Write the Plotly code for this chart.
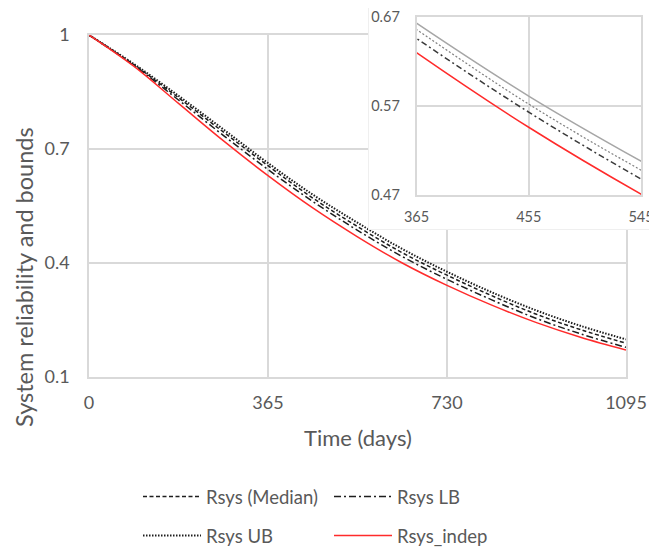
import plotly.graph_objects as go

# ---- data ----
days = [0, 91.25, 182.5, 273.75, 365, 456.25, 547.5, 638.75, 730, 821.25, 912.5, 1003.75, 1095]
rsys_median = [1.000, 0.922, 0.835, 0.745, 0.656, 0.571, 0.496, 0.427, 0.368, 0.314, 0.265, 0.224, 0.189]
rsys_lb = [1.000, 0.920, 0.829, 0.736, 0.646, 0.562, 0.486, 0.417, 0.357, 0.303, 0.254, 0.213, 0.178]
rsys_ub = [1.000, 0.924, 0.840, 0.752, 0.663, 0.580, 0.506, 0.437, 0.377, 0.323, 0.275, 0.234, 0.199]
rsys_indep = [1.000, 0.918, 0.820, 0.722, 0.630, 0.545, 0.469, 0.400, 0.341, 0.289, 0.243, 0.204, 0.171]

x_ticks = [0, 365, 730, 1095]
y_ticks = [0.1, 0.4, 0.7, 1.0]
y_ticktext = ["0.1", "0.4", "0.7", "1"]
inset_x_ticks = [365, 455, 545]
inset_y_ticks = [0.47, 0.57, 0.67]
inset_y_ticktext = ["0.47", "0.57", "0.67"]

FONT = "Lato"
TXT = "#595959"
GRID = "#d9d9d9"
BLACK = "#1e1e1e"
RED = "#ff2b2b"

OFF = 8  # page body margin of the browser
W, H = 657 - OFF, 552 - OFF
L, R, T, B = 89 - OFF, 0, 0, 175
# figure frame in reference pixels: x in [OFF, 657], y in [OFF, 552]
PX0, PY0 = L + OFF, T + OFF          # plot-area top-left, reference pixels
PW, PH = W - L - R, H - T - B
PY1 = PY0 + PH                        # plot-area bottom, reference pixels


def px_x(a, b):
    return [max(0.0, (a - PX0) / PW), min(1.0, (b - PX0) / PW)]


def px_y(top, bottom):
    return [max(0.0, (PY1 - bottom) / PH), min(1.0, (PY1 - top) / PH)]


def pt(x, y):
    return (x - PX0) / PW, (PY1 - y) / PH


fig = go.Figure()

# main traces
main_styles = [
    ("Rsys (Median)", rsys_median, dict(color=BLACK, width=1.5, dash="4px,2.5px"), "legend"),
    ("Rsys LB", rsys_lb, dict(color=BLACK, width=1.5, dash="7px,3px,2px,3px"), "legend2"),
    ("Rsys UB", rsys_ub, dict(color=BLACK, width=2, dash="1.5px,1.5px"), "legend3"),
    ("Rsys_indep", rsys_indep, dict(color=RED, width=1.5), "legend4"),
]
for name, vals, line, lg in main_styles:
    fig.add_trace(go.Scatter(x=days, y=vals, name=name, mode="lines", line=dict(shape="spline", **line),
                             xaxis="x", yaxis="y", legend=lg))

# cover panel for the inset (empty subplot)
fig.add_trace(go.Scatter(x=[None], y=[None], xaxis="x2", yaxis="y2", showlegend=False, hoverinfo="skip"))

# inset traces
inset_styles = [
    (rsys_ub, dict(color="#a6a6a6", width=1.5)),
    (rsys_median, dict(color="#7f7f7f", width=1.2, dash="2px,2px")),
    (rsys_lb, dict(color="#3a3a3a", width=1.5, dash="6px,3px,2px,3px")),
    (rsys_indep, dict(color=RED, width=1.5)),
]
for vals, line in inset_styles:
    fig.add_trace(go.Scatter(x=days, y=vals, mode="lines", line=dict(shape="spline", **line),
                             xaxis="x3", yaxis="y3", showlegend=False))

axis_common = dict(showgrid=True, gridcolor=GRID, gridwidth=1.5, showline=True, linecolor=GRID,
                   linewidth=1.5, mirror=True, zeroline=False, ticks="")

fig.update_layout(
    width=W, height=H,
    margin=dict(l=L, r=R, t=T, b=B, autoexpand=False),
    paper_bgcolor="white", plot_bgcolor="white",
    font=dict(family=FONT, color=TXT),
    xaxis=dict(domain=px_x(89, 626), range=[0, 1095], tickvals=x_ticks, ticklabelstandoff=9,
               tickfont=dict(family=FONT, color=TXT, size=18), **axis_common),
    yaxis=dict(domain=px_y(35, 377), range=[0.1, 1.0], tickvals=y_ticks, ticktext=y_ticktext,
               ticklabelstandoff=14, tickfont=dict(family=FONT, color=TXT, size=18), **axis_common),
    xaxis2=dict(domain=px_x(369, 657), range=[0, 1], showgrid=False, showticklabels=False, zeroline=False,
                showline=True, mirror=True, linecolor="#efefef", linewidth=1, ticks="", anchor="y2"),
    yaxis2=dict(domain=px_y(8, 229), range=[0, 1], showgrid=False, showticklabels=False, zeroline=False,
                showline=True, mirror=True, linecolor="#efefef", linewidth=1, ticks="", anchor="x2"),
    xaxis3=dict(domain=px_x(416.5, 641), range=[365, 545], tickvals=inset_x_ticks, ticklabelstandoff=8,
                ticklabeloverflow="allow", anchor="y3", tickfont=dict(family=FONT, color=TXT, size=14.5),
                **axis_common),
    yaxis3=dict(domain=px_y(17, 195), range=[0.47, 0.67], tickvals=inset_y_ticks, ticktext=inset_y_ticktext,
                ticklabelstandoff=12, ticklabeloverflow="allow", anchor="x3",
                tickfont=dict(family=FONT, color=TXT, size=14.5), **axis_common),
    showlegend=True,
)

leg_font = dict(family=FONT, color=TXT, size=18.5)
leg_pos = {"legend": (138, 497), "legend2": (329, 497), "legend3": (138, 536), "legend4": (329, 536)}
for key, (lx, ly) in leg_pos.items():
    px, py = pt(lx, ly)
    fig.update_layout({key: dict(x=px, y=py, xanchor="left", yanchor="middle",
                                 orientation="h", font=leg_font, bgcolor="rgba(0,0,0,0)", itemwidth=58)})

ax, ay = pt(24, 277)
fig.add_annotation(text="System reliability and bounds", textangle=-90, showarrow=False,
                   xref="paper", yref="paper", x=ax, y=ay,
                   xanchor="center", yanchor="middle", font=dict(family=FONT, color=TXT, size=23.5))
tx, ty = pt(357.5, 437)
fig.add_annotation(text="Time (days)", showarrow=False, xref="paper", yref="paper",
                   x=tx, y=ty, xanchor="center", yanchor="middle",
                   font=dict(family=FONT, color=TXT, size=22))

fig.write_html("out.html")
